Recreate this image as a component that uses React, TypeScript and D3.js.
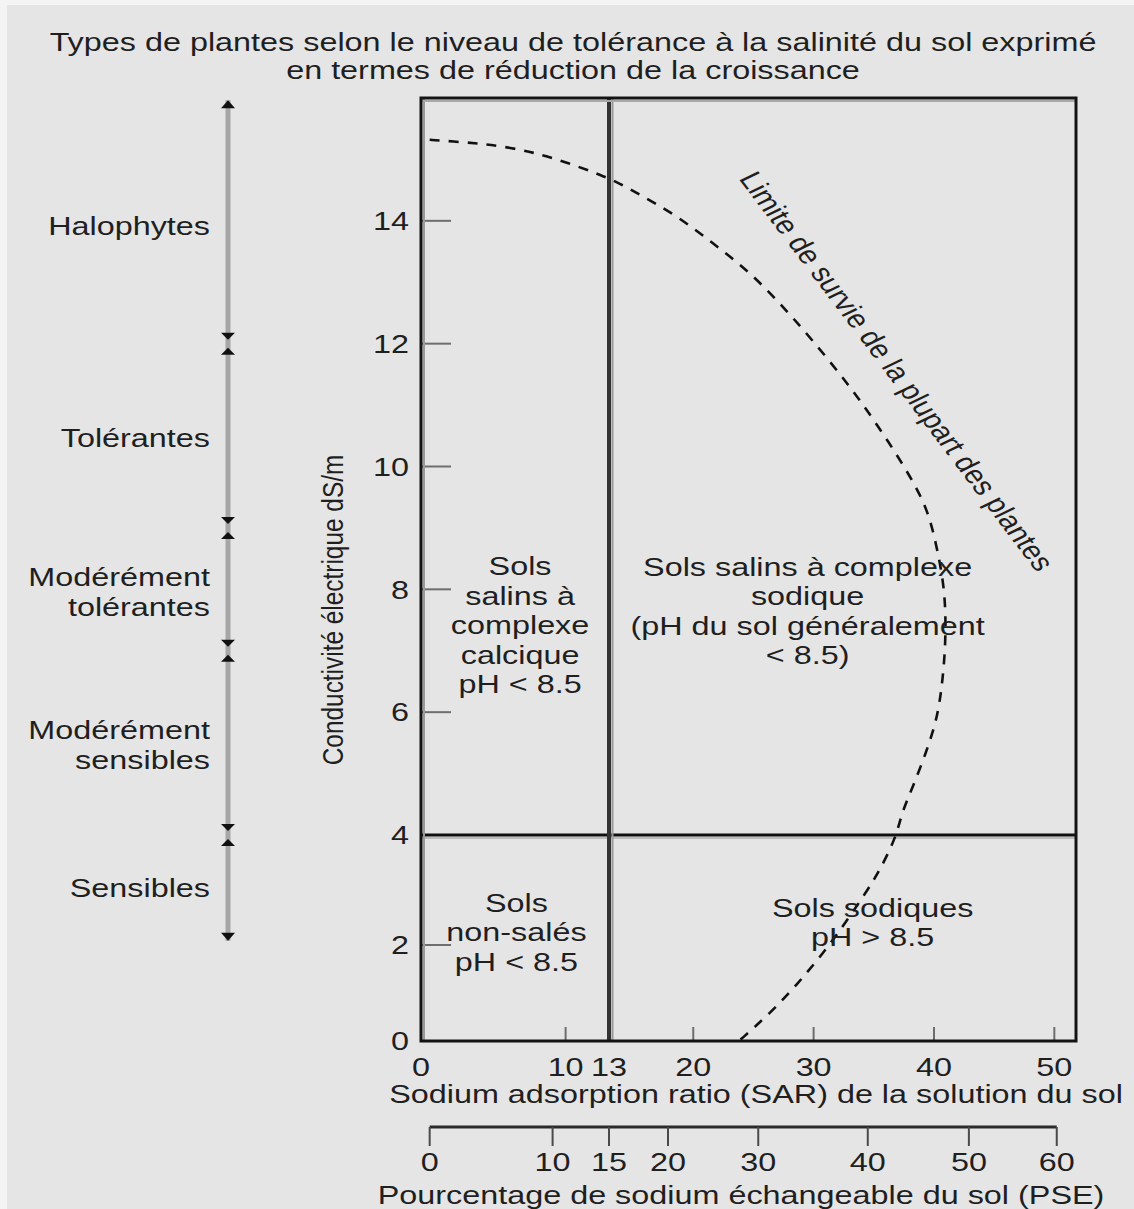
import React from "react";
import * as d3 from "d3";

// ---- data -------------------------------------------------------------
const titleLines = [
  "Types de plantes selon le niveau de tolérance à la salinité du sol exprimé",
  "en termes de réduction de la croissance",
];

const ecTicks = [0, 2, 4, 6, 8, 10, 12, 14];
const sarTickLabels = [0, 10, 13, 20, 30, 40, 50];
const sarTickMarks = [10, 20, 30, 40, 50];
const pseTicks = [0, 10, 15, 20, 30, 40, 50, 60];
// SAR value matching each PSE tick
const pseSarEquiv = [0.6, 9.1, 13, 17.9, 25.4, 34.5, 42.9, 50.2];

const salineEc = 4; // dS/m
const sodicSar = 13;

const toleranceNames = [
  ["Halophytes"],
  ["Tolérantes"],
  ["Modérément", "tolérantes"],
  ["Modérément", "sensibles"],
  ["Sensibles"],
];
const toleranceBounds = [15.9, 12, 9, 7, 4, 2.15];

// survival limit of most plants (SAR, EC)
const limitSar = [0.6, 2.9, 4.4, 6.2, 7.8, 9.3, 10.9, 12.4, 14.0, 15.6, 18.6, 21.6, 24.5, 27.2, 29.9, 32.8, 35.2, 38.0, 39.5, 40.2, 40.8, 41.0, 40.9, 40.6, 40.1, 38.4, 37.3, 36.9, 35.5, 34.6, 32.8, 30.8, 28.6, 26.4, 23.8];
const limitEc = [15.32, 15.28, 15.25, 15.19, 15.11, 15.01, 14.88, 14.75, 14.6, 14.42, 14.09, 13.64, 13.2, 12.66, 12.06, 11.36, 10.71, 9.86, 9.29, 8.72, 8.12, 7.53, 6.9, 6.31, 5.74, 4.85, 4.36, 3.98, 3.36, 3.04, 2.45, 1.83, 1.17, 0.58, 0];

const zoneLines = [
  ["Sols", "salins à", "complexe", "calcique", "pH < 8.5"],
  ["Sols salins à complexe", "sodique", "(pH du sol généralement", "< 8.5)"],
  ["Sols", "non-salés", "pH < 8.5"],
  ["Sols sodiques", "pH > 8.5"],
];
const zoneSar = [6.85, 29.5, 6.6, 34.9];
const zoneEc = [7.42, 7.65, 2.24, 2.41];

const limitLabel = "Limite de survie de la plupart des plantes";
const yTitle = "Conductivité électrique dS/m";
const sarTitle = "Sodium adsorption ratio (SAR) de la solution du sol";
const pseTitle = "Pourcentage de sodium échangeable du sol (PSE)";

// ---- layout -----------------------------------------------------------
const W = 1134;
const H = 1209;
const FONT = "'Liberation Sans', Arial, Helvetica, sans-serif";
const INK = "#1f1f1f";
const STRETCH = 1.245;
const FS = 26;

const x = d3.scaleLinear().domain([0, 13, 51.8]).range([421, 609, 1076]);
const y = d3.scaleLinear().domain([0, 2, 4, 16]).range([1041, 945, 835, 98]);
const xPse = d3
  .scaleLinear()
  .domain(pseTicks)
  .range(pseSarEquiv.map((s) => x(s)));

const xMin = 0;
const xMax = 51.8;
const yMax = 16;

const barX = 228;
const pseY = 1127;

function Label({
  px,
  py,
  text,
  anchor = "middle",
  size = FS,
}: {
  px: number;
  py: number;
  text: string;
  anchor?: string;
  size?: number;
}) {
  return (
    <text
      transform={`translate(${px},${py}) scale(${STRETCH},1)`}
      textAnchor={anchor}
      dominantBaseline="central"
      fontSize={size}
      fontFamily={FONT}
      fill={INK}
    >
      {text}
    </text>
  );
}

export default function App() {
  const limitPts = limitSar.map((s, i) => [s, limitEc[i]] as [number, number]);
  const limitPath = d3
    .line<[number, number]>()
    .x((d) => x(d[0]))
    .y((d) => y(d[1]))
    .curve(d3.curveBasis)(limitPts);

  const left = x(xMin);
  const right = x(xMax);
  const top = y(yMax);
  const bottom = y(0);

  const tri = (cx: number, baseY: number, apexY: number) =>
    `M${cx - 7},${baseY}L${cx + 7},${baseY}L${cx},${apexY}Z`;

  const yTop = y(toleranceBounds[0]);
  const yBot = y(toleranceBounds[toleranceBounds.length - 1]);

  return (
    <svg
      width={W}
      height={H}
      style={{ position: "absolute", left: 0, top: 0 }}
      xmlns="http://www.w3.org/2000/svg"
    >
      <rect width={W} height={H} fill="#f4f4f4" />
      <rect x={7} y={5} width={W - 7} height={H - 5} fill="#e5e5e5" />

      {/* title */}
      {titleLines.map((t, i) => (
        <Label key={i} px={573} py={42 + i * 28} text={t} />
      ))}

      {/* tolerance scale */}
      <line
        x1={barX}
        x2={barX}
        y1={yTop - 4}
        y2={yBot + 4}
        stroke="#a6a6a6"
        strokeWidth={5}
      />
      <path d={tri(barX, yTop + 4, yTop - 4)} fill="#111" />
      <path d={tri(barX, yBot - 4, yBot + 4)} fill="#111" />
      {toleranceBounds.slice(1, -1).map((b, i) => {
        const yb = y(b);
        return (
          <g key={i}>
            <path d={tri(barX, yb - 11, yb - 4)} fill="#111" />
            <path d={tri(barX, yb + 11, yb + 4)} fill="#111" />
          </g>
        );
      })}
      {toleranceNames.map((lines, i) => {
        const mid = (toleranceBounds[i] + toleranceBounds[i + 1]) / 2;
        const cy = y(mid) + 2;
        return lines.map((t, j) => (
          <Label
            key={`${i}-${j}`}
            px={210}
            py={cy + (j - (lines.length - 1) / 2) * 30}
            text={t}
            anchor="end"
          />
        ));
      })}

      {/* y axis title */}
      <text
        transform={`translate(333,610) scale(${STRETCH},1) rotate(-90)`}
        textAnchor="middle"
        dominantBaseline="central"
        fontSize={24.4}
        fontFamily={FONT}
        fill={INK}
      >
        {yTitle}
      </text>

      {/* y ticks */}
      {ecTicks.map((v) => (
        <g key={v}>
          {v > 0 && v !== salineEc && (
            <line
              x1={left}
              x2={left + 30}
              y1={y(v)}
              y2={y(v)}
              stroke="#6e6e6e"
              strokeWidth={2}
            />
          )}
          <Label px={409} py={y(v)} text={String(v)} anchor="end" />
        </g>
      ))}

      {/* x ticks */}
      {sarTickMarks.map((v) => (
        <line
          key={v}
          x1={x(v)}
          x2={x(v)}
          y1={bottom}
          y2={bottom - 14}
          stroke="#6e6e6e"
          strokeWidth={2}
        />
      ))}
      {sarTickLabels.map((v) => (
        <Label key={v} px={x(v)} py={1067} text={String(v)} />
      ))}
      <Label px={756} py={1094} text={sarTitle} />

      {/* zone boundaries */}
      <line
        x1={left}
        x2={right}
        y1={y(salineEc) + 3}
        y2={y(salineEc) + 3}
        stroke="#bdbdbd"
        strokeWidth={2}
      />
      <line
        x1={left}
        x2={right}
        y1={y(salineEc)}
        y2={y(salineEc)}
        stroke="#111"
        strokeWidth={3}
      />
      <line
        x1={x(sodicSar)}
        x2={x(sodicSar)}
        y1={top}
        y2={bottom}
        stroke="#333"
        strokeWidth={4}
      />
      <line
        x1={x(sodicSar) + 3.5}
        x2={x(sodicSar) + 3.5}
        y1={top}
        y2={bottom}
        stroke="#9a9a9a"
        strokeWidth={2}
      />

      {/* frame */}
      <line x1={left + 3} x2={left + 3} y1={top} y2={bottom} stroke="#9a9a9a" strokeWidth={2} />
      <line x1={left} x2={right} y1={top + 3} y2={top + 3} stroke="#a8a8a8" strokeWidth={2} />
      <rect
        x={left}
        y={top}
        width={right - left}
        height={bottom - top}
        fill="none"
        stroke="#141414"
        strokeWidth={3}
      />

      {/* survival limit */}
      <path
        d={limitPath || ""}
        fill="none"
        stroke="#111"
        strokeWidth={2.6}
        strokeDasharray="10 9"
      />
      <text
        transform={`translate(897,371) scale(${STRETCH},1) rotate(58.7)`}
        textAnchor="middle"
        dominantBaseline="central"
        fontSize={25.4}
        fontFamily={FONT}
        fill={INK}
      >
        {limitLabel}
      </text>

      {/* zone labels */}
      {zoneLines.map((lines, i) =>
        lines.map((t, j) => (
          <Label
            key={`${i}-${j}`}
            px={x(zoneSar[i])}
            py={y(zoneEc[i]) + (j - (lines.length - 1) / 2) * 29.5}
            text={t}
          />
        ))
      )}

      {/* PSE axis */}
      <line
        x1={xPse(pseTicks[0])}
        x2={xPse(pseTicks[pseTicks.length - 1])}
        y1={pseY}
        y2={pseY}
        stroke="#2a2a2a"
        strokeWidth={3}
      />
      {pseTicks.map((v) => (
        <g key={v}>
          <line
            x1={xPse(v)}
            x2={xPse(v)}
            y1={pseY}
            y2={pseY + 19}
            stroke="#4a4a4a"
            strokeWidth={2}
          />
          <Label px={xPse(v)} py={1162} text={String(v)} />
        </g>
      ))}
      <Label px={741} py={1195} text={pseTitle} />
    </svg>
  );
}
